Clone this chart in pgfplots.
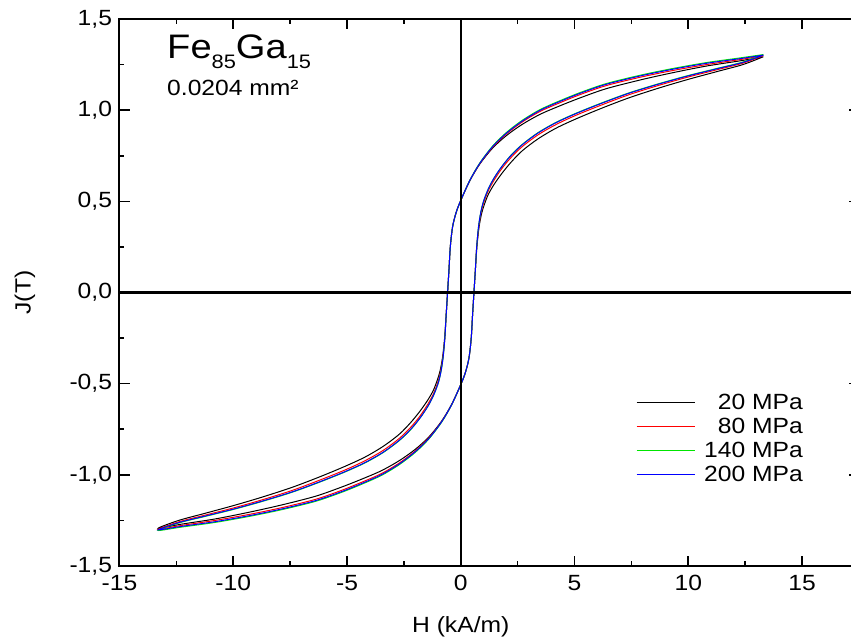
\documentclass[border=0pt]{standalone}
\usepackage{fontspec}
\setmainfont{Liberation Sans}[FakeStretch=1.12]
\usepackage{pgfplots}
\pgfplotsset{compat=1.18}
\definecolor{cgreen}{rgb}{0,0.9,0}
\begin{document}
\begin{tikzpicture}
\begin{axis}[
  at={(0pt,0pt)}, anchor=south west,
  scale only axis, width=739.4pt, height=547pt,
  xmin=-15, xmax=17.5, ymin=-1.5, ymax=1.5,
  xtick={-15,-10,-5,0,5,10,15},
  xticklabels={-15,-10,-5,0,5,10,15},
  ytick={-1.5,-1,-0.5,0,0.5,1,1.5},
  yticklabels={{-1,5},{-1,0},{-0,5},{0,0},{0,5},{1,0},{1,5}},
  minor x tick num=1, minor y tick num=1,
  tick align=inside,
  major tick length=10pt, minor tick length=5pt,
  every tick/.append style={black, line width=1.6pt},
  axis line style={line width=2pt},
  tick label style={font=\fontsize{22}{25}\selectfont},
  xticklabel style={yshift=-6pt},
  yticklabel style={xshift=-4pt},
  xlabel={H (kA/m)}, ylabel={J(T)},
  every axis x label/.style={at={(axis cs:0,-1.5)}, yshift=-61pt, anchor=center, font=\fontsize{22}{25}\selectfont},
  every axis y label/.style={at={(axis cs:-15,0)}, xshift=-94.5pt, anchor=center, rotate=90, font=\fontsize{22}{25}\selectfont},
  legend style={draw=none, fill=none, at={(axis description cs:0.9258,0.316)}, anchor=north east,
    font=\fontsize{22}{25}\selectfont, inner sep=0pt, row sep=5pt,
    nodes={inner sep=1pt}},
  legend cell align=right,
  legend image code/.code={\draw[#1, line width=1pt] (0pt,0pt) -- (58pt,0pt);},
  /tikz/every odd column/.append style={column sep=8pt},
]
% 20 MPa
\addplot[black, line width=1pt, smooth, tension=0.5] coordinates {
(13.3,1.293)(12.3,1.271)(10.8,1.242)(9.3,1.205)(7.9,1.166)(6.4,1.118)(5.3,1.070)(4.4,1.026)(3.5,0.978)(2.7,0.922)(2.0,0.860)(1.4,0.792)(0.84,0.705)(0.4,0.613)(0,0.505)(-0.2,0.440)(-0.36,0.360)(-0.46,0.250)(-0.52,0.120)(-0.58,0)
(-0.64,-0.12)(-0.71,-0.25)(-0.80,-0.355)(-0.91,-0.43)(-1.03,-0.48)(-1.2,-0.535)(-1.45,-0.59)(-1.8,-0.652)(-2.2,-0.713)(-2.7,-0.777)(-3.4,-0.843)(-4.2,-0.902)(-5.1,-0.954)(-6.2,-1.011)(-7.4,-1.068)(-8.7,-1.121)(-10.0,-1.169)(-11.3,-1.213)(-12.4,-1.250)(-13.3,-1.293)
(-12.3,-1.271)(-10.8,-1.242)(-9.3,-1.205)(-7.9,-1.166)(-6.4,-1.118)(-5.3,-1.070)(-4.4,-1.026)(-3.5,-0.978)(-2.7,-0.922)(-2.0,-0.860)(-1.4,-0.792)(-0.84,-0.705)(-0.4,-0.613)(0,-0.505)(0.2,-0.440)(0.36,-0.360)(0.46,-0.250)(0.52,-0.120)(0.58,0)
(0.64,0.12)(0.71,0.25)(0.80,0.355)(0.91,0.43)(1.03,0.48)(1.2,0.535)(1.45,0.59)(1.8,0.652)(2.2,0.713)(2.7,0.777)(3.4,0.843)(4.2,0.902)(5.1,0.954)(6.2,1.011)(7.4,1.068)(8.7,1.121)(10.0,1.169)(11.3,1.213)(12.4,1.250)(13.3,1.293)
};
\addlegendentry{20 MPa}
% 80 MPa
\addplot[red, line width=1pt, smooth, tension=0.5] coordinates {
(13.3,1.299)(12.3,1.278)(10.8,1.250)(9.3,1.217)(7.9,1.181)(6.4,1.135)(5.3,1.088)(4.4,1.043)(3.5,0.994)(2.7,0.935)(2.0,0.869)(1.4,0.797)(0.84,0.708)(0.4,0.615)(0,0.505)(-0.2,0.440)(-0.36,0.360)(-0.46,0.250)(-0.52,0.120)(-0.58,0)
(-0.64,-0.12)(-0.70,-0.25)(-0.79,-0.36)(-0.89,-0.437)(-1.01,-0.493)(-1.2,-0.555)(-1.45,-0.613)(-1.8,-0.679)(-2.2,-0.739)(-2.7,-0.800)(-3.4,-0.865)(-4.2,-0.922)(-5.1,-0.974)(-6.2,-1.029)(-7.4,-1.085)(-8.7,-1.136)(-10.0,-1.182)(-11.3,-1.223)(-12.4,-1.258)(-13.3,-1.299)
(-12.3,-1.278)(-10.8,-1.250)(-9.3,-1.217)(-7.9,-1.181)(-6.4,-1.135)(-5.3,-1.088)(-4.4,-1.043)(-3.5,-0.994)(-2.7,-0.935)(-2.0,-0.869)(-1.4,-0.797)(-0.84,-0.708)(-0.4,-0.615)(0,-0.505)(0.2,-0.440)(0.36,-0.360)(0.46,-0.250)(0.52,-0.120)(0.58,0)
(0.64,0.12)(0.70,0.25)(0.79,0.36)(0.89,0.437)(1.01,0.493)(1.2,0.555)(1.45,0.613)(1.8,0.679)(2.2,0.739)(2.7,0.800)(3.4,0.865)(4.2,0.922)(5.1,0.974)(6.2,1.029)(7.4,1.085)(8.7,1.136)(10.0,1.182)(11.3,1.223)(12.4,1.258)(13.3,1.299)
};
\addlegendentry{80 MPa}
% 140 MPa
\addplot[cgreen, line width=1pt, smooth, tension=0.5] coordinates {
(13.3,1.305)(12.3,1.287)(10.8,1.261)(9.3,1.228)(7.9,1.192)(6.4,1.146)(5.3,1.099)(4.4,1.054)(3.5,1.004)(2.7,0.944)(2.0,0.877)(1.4,0.803)(0.84,0.711)(0.4,0.616)(0,0.505)(-0.2,0.440)(-0.36,0.360)(-0.46,0.250)(-0.52,0.120)(-0.58,0)
(-0.64,-0.12)(-0.70,-0.25)(-0.78,-0.36)(-0.88,-0.44)(-1.0,-0.50)(-1.2,-0.565)(-1.45,-0.625)(-1.8,-0.69)(-2.2,-0.752)(-2.7,-0.812)(-3.4,-0.877)(-4.2,-0.934)(-5.1,-0.985)(-6.2,-1.040)(-7.4,-1.095)(-8.7,-1.145)(-10.0,-1.190)(-11.3,-1.230)(-12.4,-1.264)(-13.3,-1.305)
(-12.3,-1.287)(-10.8,-1.261)(-9.3,-1.228)(-7.9,-1.192)(-6.4,-1.146)(-5.3,-1.099)(-4.4,-1.054)(-3.5,-1.004)(-2.7,-0.944)(-2.0,-0.877)(-1.4,-0.803)(-0.84,-0.711)(-0.4,-0.616)(0,-0.505)(0.2,-0.440)(0.36,-0.360)(0.46,-0.250)(0.52,-0.120)(0.58,0)
(0.64,0.12)(0.70,0.25)(0.78,0.36)(0.88,0.44)(1.0,0.50)(1.2,0.565)(1.45,0.625)(1.8,0.69)(2.2,0.752)(2.7,0.812)(3.4,0.877)(4.2,0.934)(5.1,0.985)(6.2,1.040)(7.4,1.095)(8.7,1.145)(10.0,1.190)(11.3,1.230)(12.4,1.264)(13.3,1.305)
};
\addlegendentry{140 MPa}
% 200 MPa
\addplot[blue, line width=1pt, smooth, tension=0.5] coordinates {
(13.3,1.302)(12.3,1.283)(10.8,1.257)(9.3,1.224)(7.9,1.188)(6.4,1.142)(5.3,1.095)(4.4,1.050)(3.5,1.000)(2.7,0.940)(2.0,0.873)(1.4,0.800)(0.84,0.709)(0.4,0.615)(0,0.505)(-0.2,0.440)(-0.36,0.360)(-0.46,0.250)(-0.52,0.120)(-0.58,0)
(-0.64,-0.12)(-0.70,-0.25)(-0.78,-0.36)(-0.88,-0.44)(-1.0,-0.50)(-1.2,-0.565)(-1.45,-0.625)(-1.8,-0.69)(-2.2,-0.75)(-2.7,-0.81)(-3.4,-0.875)(-4.2,-0.932)(-5.1,-0.983)(-6.2,-1.038)(-7.4,-1.093)(-8.7,-1.143)(-10.0,-1.188)(-11.3,-1.228)(-12.4,-1.262)(-13.3,-1.302)
(-12.3,-1.283)(-10.8,-1.257)(-9.3,-1.224)(-7.9,-1.188)(-6.4,-1.142)(-5.3,-1.095)(-4.4,-1.050)(-3.5,-1.000)(-2.7,-0.940)(-2.0,-0.873)(-1.4,-0.800)(-0.84,-0.709)(-0.4,-0.615)(0,-0.505)(0.2,-0.440)(0.36,-0.360)(0.46,-0.250)(0.52,-0.120)(0.58,0)
(0.64,0.12)(0.70,0.25)(0.78,0.36)(0.88,0.44)(1.0,0.50)(1.2,0.565)(1.45,0.625)(1.8,0.69)(2.2,0.75)(2.7,0.81)(3.4,0.875)(4.2,0.932)(5.1,0.983)(6.2,1.038)(7.4,1.093)(8.7,1.143)(10.0,1.188)(11.3,1.228)(12.4,1.262)(13.3,1.302)
};
\addlegendentry{200 MPa}
\draw[black, line width=2.2pt] (axis cs:0,-1.5) -- (axis cs:0,1.5);
\draw[black, line width=2.2pt] (axis cs:-15,0) -- (axis cs:17.5,0);
\node[anchor=base west, inner sep=0pt, font=\fontsize{34}{38}\selectfont] at (axis cs:-12.91,1.281)
  {Fe\raisebox{-10pt}{\fontsize{19.5}{22}\selectfont 85}Ga\raisebox{-10pt}{\fontsize{19.5}{22}\selectfont 15}};
\node[anchor=base west, inner sep=0pt, font=\fontsize{22}{25}\selectfont] at (axis cs:-12.91,1.083) {0.0204 mm²};
\end{axis}
\pgfresetboundingbox
\path[use as bounding box] (-119.5pt,-77pt) rectangle (731.5pt,566pt);
\end{tikzpicture}
\end{document}
